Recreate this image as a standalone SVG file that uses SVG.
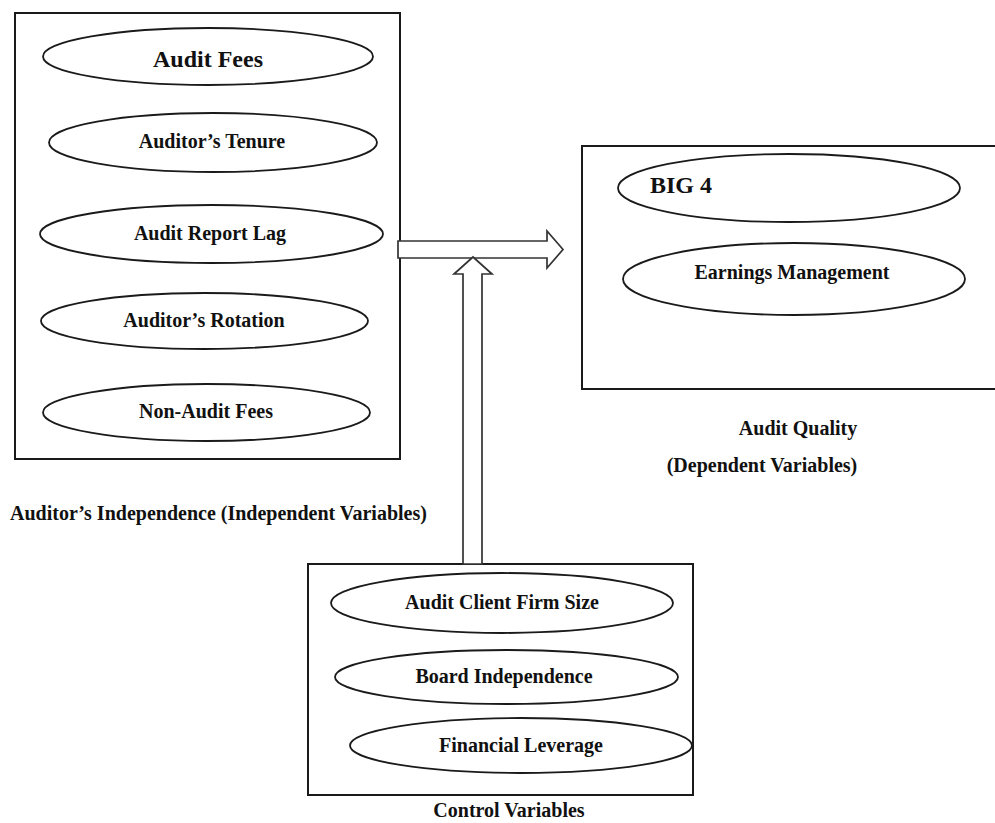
<svg xmlns="http://www.w3.org/2000/svg" width="995" height="823" viewBox="0 0 995 823">
<style>
.box{fill:none;stroke:#1a1a1a;stroke-width:2}
.ell{fill:#fff;stroke:#1a1a1a;stroke-width:1.8}
.arr{fill:#fff;stroke:#333;stroke-width:1.7;stroke-linejoin:miter}
text{font-family:"Liberation Serif","Times New Roman",serif;font-weight:bold;fill:#111;font-size:20px}
.c{text-anchor:middle}
.big{font-size:24px}
</style>
<rect width="995" height="823" fill="#fff"/>
<g id="independent">
<rect class="box" x="15" y="13" width="385" height="446"/>
<g id="audit-fees"><ellipse class="ell" cx="208" cy="56.5" rx="165" ry="28.5"/><text class="c big" x="208" y="67">Audit Fees</text></g>
<g id="auditors-tenure"><ellipse class="ell" cx="213" cy="142.5" rx="164" ry="29.5"/><text class="c" x="212" y="148">Auditor’s Tenure</text></g>
<g id="audit-report-lag"><ellipse class="ell" cx="211.5" cy="234" rx="171.5" ry="29"/><text class="c" x="210" y="240">Audit Report Lag</text></g>
<g id="auditors-rotation"><ellipse class="ell" cx="204.5" cy="321" rx="163.5" ry="28"/><text class="c" x="204" y="327">Auditor’s Rotation</text></g>
<g id="non-audit-fees"><ellipse class="ell" cx="206.5" cy="412.5" rx="163.5" ry="28.5"/><text class="c" x="206" y="418">Non-Audit Fees</text></g>
<text id="label-independent" x="10" y="520">Auditor’s Independence (Independent Variables)</text>
</g>
<g id="dependent">
<rect class="box" x="582" y="146" width="420" height="243"/>
<g id="big4"><ellipse class="ell" cx="789" cy="188" rx="171" ry="34"/><text class="big" x="650" y="193">BIG 4</text></g>
<g id="earnings-management"><ellipse class="ell" cx="794" cy="279" rx="171" ry="36"/><text class="c" x="792" y="279">Earnings Management</text></g>
<text id="label-quality" class="c" x="798" y="435">Audit Quality</text>
<text id="label-dependent" class="c" x="762" y="472">(Dependent Variables)</text>
</g>
<g id="control">
<rect class="box" x="308" y="564" width="385" height="231"/>
<g id="firm-size"><ellipse class="ell" cx="502" cy="603" rx="171" ry="30"/><text class="c" x="502" y="609">Audit Client Firm Size</text></g>
<g id="board-independence"><ellipse class="ell" cx="506.5" cy="677" rx="171.5" ry="27"/><text class="c" x="504" y="683">Board Independence</text></g>
<g id="financial-leverage"><ellipse class="ell" cx="521" cy="745.5" rx="171" ry="27.5"/><text class="c" x="521" y="752">Financial Leverage</text></g>
<text id="label-control" class="c" x="509" y="817">Control Variables</text>
</g>
<g id="connectors">
<polygon class="arr" points="398,241 547,241 547,231 563,249.5 547,268 547,258 398,258"/>
<polygon class="arr" points="463,564 463,274 454,274 473,257 492,274 482,274 482,564"/>
</g>
</svg>
